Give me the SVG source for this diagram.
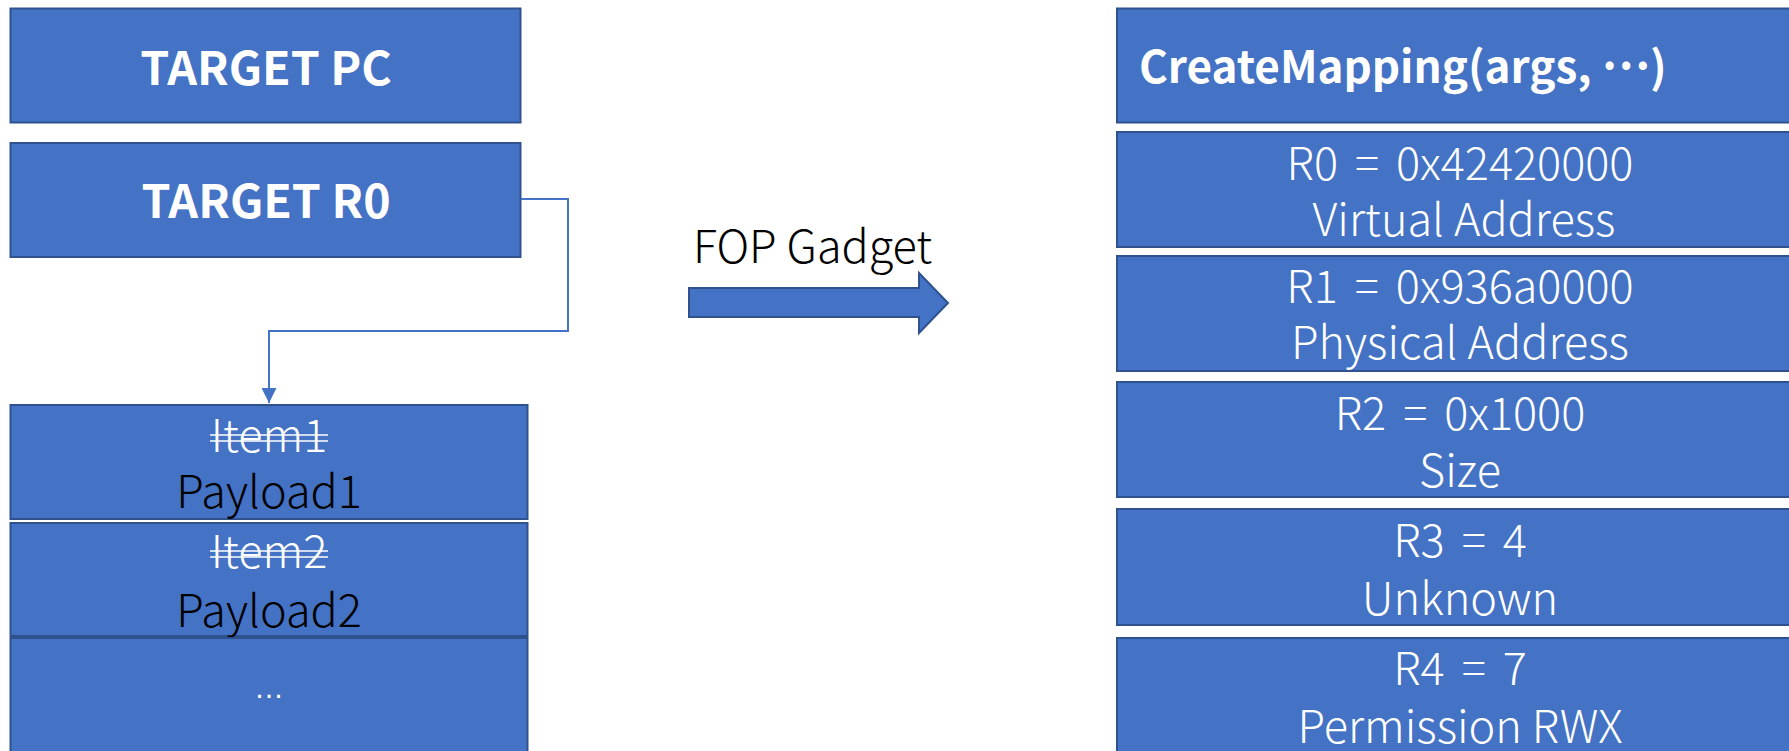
<svg xmlns="http://www.w3.org/2000/svg" width="1789" height="751" viewBox="0 0 1789 751">
  <style>
    .box { fill: #4472C4; stroke: #2F528F; stroke-width: 2; }
    .bold { font-family: "Noto Sans CJK SC", "Liberation Sans", sans-serif; font-weight: 700; fill: #FFFFFF; }
    .light { font-family: "Noto Sans CJK SC", "Liberation Sans", sans-serif; font-weight: 300; font-size: 45px; }
    .eq { word-spacing: 7px; }
    .w { fill: #FFFFFF; }
    .k { fill: #000000; }
    .mid { text-anchor: middle; }
    .strike { stroke: #FFFFFF; stroke-width: 1.6; }
    .link { fill: none; stroke: #4472C4; stroke-width: 2; }
  </style>
  <defs>
    <marker id="tri" viewBox="0 0 10 10" refX="10" refY="5" markerWidth="7.5" markerHeight="7.5" markerUnits="strokeWidth" orient="auto">
      <path d="M0,0 L10,5 L0,10 Z" fill="#4472C4"/>
    </marker>
  </defs>
  <rect width="1789" height="751" fill="#FFFFFF"/>

  <!-- left column: target registers -->
  <g id="target-pc">
    <rect class="box" x="10.5" y="8.5" width="510" height="114"/>
    <text class="bold mid" x="266" y="85" font-size="46.5">TARGET PC</text>
  </g>
  <g id="target-r0">
    <rect class="box" x="10.5" y="143" width="510" height="114"/>
    <text class="bold mid" x="266" y="218" font-size="46.5">TARGET R0</text>
  </g>

  <!-- payload list -->
  <g id="payload1">
    <rect class="box" x="10.5" y="405" width="517" height="114"/>
    <text class="light w mid" x="269" y="452">Item1</text>
    <line class="strike" x1="210" y1="435" x2="328" y2="435"/>
    <line class="strike" x1="210" y1="441" x2="328" y2="441"/>
    <text class="light k mid" x="269" y="508">Payload1</text>
  </g>
  <g id="payload2">
    <rect class="box" x="10.5" y="523" width="517" height="113"/>
    <text class="light w mid" x="269" y="568">Item2</text>
    <line class="strike" x1="210" y1="551" x2="328" y2="551"/>
    <line class="strike" x1="210" y1="557" x2="328" y2="557"/>
    <text class="light k mid" x="269" y="627">Payload2</text>
  </g>
  <g id="payload-more">
    <rect class="box" x="10.5" y="638" width="517" height="130"/>
    <text class="w mid" x="269" y="698" font-family="Liberation Sans, sans-serif" font-size="30">…</text>
  </g>

  <!-- transformation arrow -->
  <g id="fop-gadget">
    <text class="light k" x="693" y="263">FOP Gadget</text>
    <polygon class="box" points="689,288 919,288 919,273 948,303 919,333 919,317 689,317"/>
  </g>

  <!-- right column: call arguments -->
  <g id="create-mapping">
    <rect class="box" x="1117" y="8.5" width="700" height="114"/>
    <text class="bold" x="1139" y="83" font-size="44">CreateMapping(args, <tspan dy="-14">…</tspan><tspan dy="14">)</tspan></text>
  </g>
  <g id="arg-r0">
    <rect class="box" x="1117" y="132" width="700" height="115"/>
    <text class="light w mid eq" x="1460" y="180">R0 = 0x42420000</text>
    <text class="light w mid" x="1464" y="236">Virtual Address</text>
  </g>
  <g id="arg-r1">
    <rect class="box" x="1117" y="256" width="700" height="115"/>
    <text class="light w mid eq" x="1460" y="303">R1 = 0x936a0000</text>
    <text class="light w mid" x="1460" y="359">Physical Address</text>
  </g>
  <g id="arg-r2">
    <rect class="box" x="1117" y="382" width="700" height="115"/>
    <text class="light w mid eq" x="1460" y="430">R2 = 0x1000</text>
    <text class="light w mid" x="1460" y="487">Size</text>
  </g>
  <g id="arg-r3">
    <rect class="box" x="1117" y="509" width="700" height="116"/>
    <text class="light w mid eq" x="1460" y="557">R3 = 4</text>
    <text class="light w mid" x="1460" y="615">Unknown</text>
  </g>
  <g id="arg-r4">
    <rect class="box" x="1117" y="638" width="700" height="130"/>
    <text class="light w mid eq" x="1460" y="685">R4 = 7</text>
    <text class="light w mid" x="1460" y="743" font-size="46">Permission RWX</text>
  </g>

  <!-- connectors -->
  <g id="connectors">
    <path class="link" d="M521,199 H568 V331 H269 V403" marker-end="url(#tri)"/>
  </g>
</svg>
